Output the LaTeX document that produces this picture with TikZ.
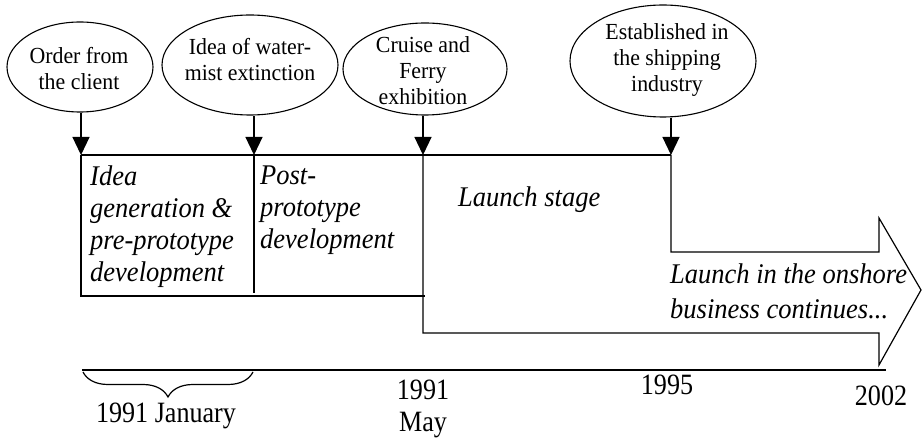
\documentclass[tikz,border=0pt]{standalone}
\usepackage{fontspec}
\setmainfont{Liberation Serif}
\newfontfamily\evfont[FakeStretch=0.95]{Liberation Serif}
\newfontfamily\stfont[FakeStretch=0.93]{Liberation Serif}
\newfontfamily\dtfont[FakeStretch=0.885]{Liberation Serif}
\usetikzlibrary{shapes.geometric,arrows.meta,decorations.pathreplacing}
\begin{document}
\begin{tikzpicture}[x=1pt,y=-1pt,
  event/.style={draw, ellipse, inner sep=0pt, line width=1.1pt},
  evtext/.style={align=center, font=\evfont\fontsize{23}{26}\selectfont, inner sep=0pt},
  stagetext/.style={align=left, font=\stfont\itshape\fontsize{28.5}{32}\selectfont, inner sep=0pt},
  datetext/.style={align=center, font=\dtfont\fontsize{29.5}{32}\selectfont, inner sep=0pt},
  edge/.style={line width=1.2pt},
  drop/.style={line width=1.2pt, -{Triangle[width=17pt,length=18pt]}},
]
\useasboundingbox (0,0) rectangle (924,438);

% milestone ellipses
\node[event, minimum width=146pt, minimum height=90pt]  (e1) at (80,67) {};
\node[event, minimum width=176pt, minimum height=100pt] (e2) at (250,65) {};
\node[event, minimum width=164pt, minimum height=92pt]  (e3) at (425,69) {};
\node[event, minimum width=186pt, minimum height=112pt] (e4) at (663,61) {};

\node[evtext] (t1) at (79,69) {Order from\\the client};
\node[evtext] (t2) at (250,59.5) {Idea of water-\\mist extinction};
\node[evtext] (t3) at (423,71) {Cruise and\\Ferry\\exhibition};
\node[evtext] (t4) at (667,60.5) {Established in\\the shipping\\industry};

% points where the milestones meet the stage line
\coordinate (p1) at (81,155);
\coordinate (p2) at (254,155);
\coordinate (p3) at (423,155);
\coordinate (p4) at (671,155);

\draw[drop] (e1.south -| p1) -- (p1);
\draw[drop] (e2.south -| p2) -- (p2);
\draw[drop] (e3.south -| p3) -- (p3);
\draw[drop] (e4.south -| p4) -- (p4);

% stage boxes
\draw[edge] (p1) -- (p4);
\draw[edge] (p1) -- (81,296) -- (425,296);
\draw[edge] (p2) -- (254,293);
\draw[edge, line join=miter] (p3) -- (423,333) -- (879,333) -- (879,365) -- (921,290)
  -- (879,218) -- (879,252) -- (671,252) -- (p4);

% stage labels
\node[stagetext, anchor=north west] (s1) at (90,165.5)
  {Idea\\generation \&\\pre-prototype\\development};
\node[stagetext, anchor=north west] (s2) at (260,165.5)
  {Post-\\prototype\\development};
\node[stagetext, anchor=base west] (s3) at (458,207) {Launch stage};
\node[stagetext, anchor=north west, font=\stfont\itshape\fontsize{28.5}{35}\selectfont] (s4) at (670,264)
  {Launch in the onshore\\business continues...};

% time axis
\draw[line width=1.8pt] (82,370) -- (886,370);
\draw[decorate, decoration={brace, mirror, amplitude=25pt}, line width=1.2pt]
  (83,372) -- (253,372);

\node[datetext, anchor=base] (d1) at (166,422) {1991 January};
\node[datetext, anchor=north] (d2) at (423,380) {1991\\May};
\node[datetext, anchor=base] (d3) at (667,395) {1995};
\node[datetext, anchor=base] (d4) at (881,405) {2002};
\end{tikzpicture}
\end{document}
